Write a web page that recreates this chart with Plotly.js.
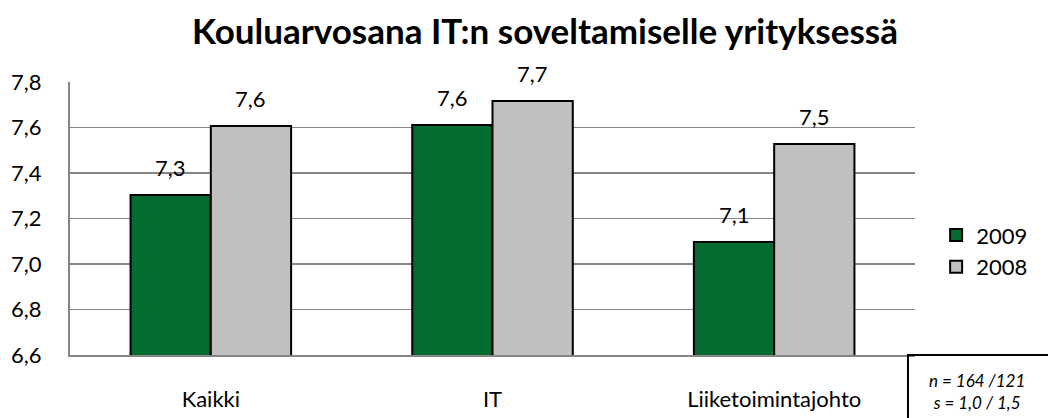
<!DOCTYPE html>
<html><head><meta charset="utf-8">
<script src="https://cdn.plot.ly/plotly-3.0.1.min.js"></script>
<style>body{margin:0;background:#fff}#c{width:1048px;height:418px}</style>
</head><body><div id="c"></div>
<script>
const categories = ["Kaikki", "IT", "Liiketoimintajohto"];
const values2009 = [7.303, 7.611, 7.097];
const values2008 = [7.607, 7.716, 7.527];
const seriesNames = ["2009", "2008"];
const yTicks = [6.6, 6.8, 7.0, 7.2, 7.4, 7.6, 7.8];
const noteText = "<i>n = 164 /121<br>s = 1,0 / 1,5</i>";

const FONT = "Lato, 'Open Sans', sans-serif";
const colors = ["#046b31", "#c0c0c0"];
const series = [values2009, values2008];

const traces = series.map((vals, i) => ({
  type: "bar", x: categories, y: vals, name: seriesNames[i], legendgroup: seriesNames[i],
  marker: {color: colors[i], line: {color: "#000", width: 2}},
  hoverinfo: "none"
}));

const fmt = v => v.toFixed(1).replace(".", ",");
const annotations = [];
series.forEach((vals, i) => {
  vals.forEach((v, j) => {
    annotations.push({
      x: categories[j], y: v, xref: "x", yref: "y",
      text: fmt(v), showarrow: false, yanchor: "bottom", xanchor: "center",
      xshift: i === 0 ? -40 : 40, yshift: 12,
      font: {family: FONT, size: 22, color: "#000"}
    });
  });
});
annotations.push({
  xref: "paper", yref: "paper", x: 1.073, y: -0.133,
  xanchor: "center", yanchor: "middle",
  text: noteText, showarrow: false, align: "center",
  font: {family: FONT, size: 17, color: "#000"}
});

const layout = {
  width: 1048, height: 418,
  margin: {l: 70, r: 133, t: 82, b: 63},
  paper_bgcolor: "#fff", plot_bgcolor: "#fff",
  separators: ",.",
  title: {text: "<b>Kouluarvosana IT:n soveltamiselle yrityksessä</b>",
          x: 0.52, xanchor: "center", y: 0.925, yanchor: "middle",
          font: {family: FONT, size: 35, color: "#000"}},
  barmode: "group", bargap: 0.43, bargroupgap: 0,
  xaxis: {showgrid: false, showline: true, linecolor: "#868686", linewidth: 2,
          ticks: "", ticklabelstandoff: 24,
          tickfont: {family: FONT, size: 22, color: "#000"}},
  yaxis: {range: [6.6, 7.8], tickvals: yTicks, ticktext: yTicks.map(fmt),
          showgrid: true, gridcolor: "#868686", gridwidth: 1.5,
          showline: true, linecolor: "#868686", linewidth: 2,
          zeroline: false, ticks: "", ticklabelstandoff: 22,
          tickfont: {family: FONT, size: 22, color: "#000"}},
  legend: {x: 1.025, y: 0.38, xanchor: "left", yanchor: "middle",
           font: {family: FONT, size: 22, color: "#000"},
           tracegroupgap: 14, itemwidth: 30, traceorder: "normal"},
  shapes: [{type: "rect", xref: "paper", yref: "paper",
            x0: 0.9917, x1: 1.2, y0: 0, y1: -0.3,
            line: {color: "#000", width: 2}, fillcolor: "rgba(0,0,0,0)"}],
  annotations: annotations
};

Plotly.newPlot("c", traces, layout, {displayModeBar: false, staticPlot: true});
</script></body></html>
